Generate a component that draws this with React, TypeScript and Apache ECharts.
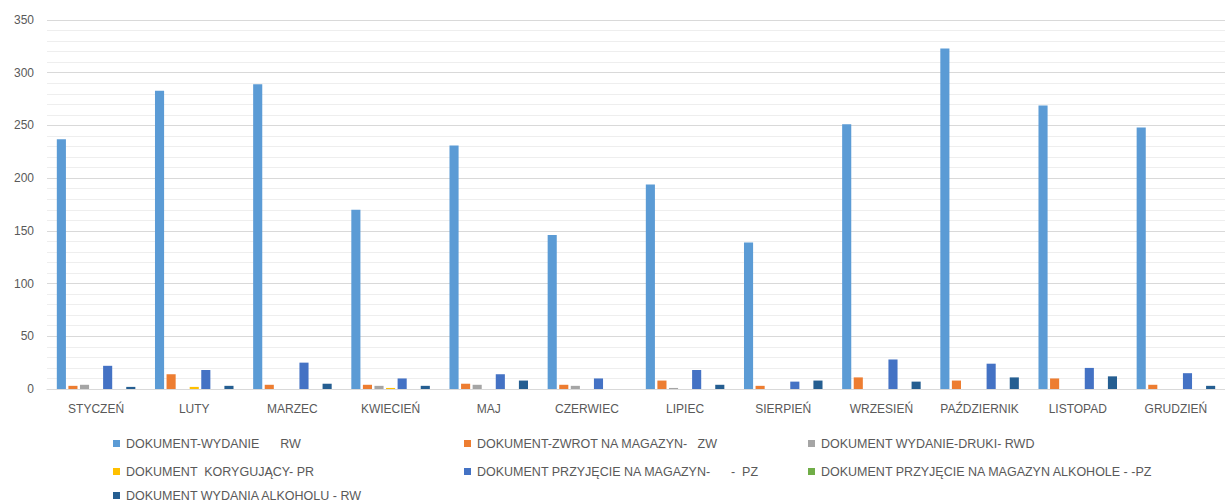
import React, { useEffect, useRef } from "react";
import * as echarts from "echarts";

const months = ["STYCZEŃ", "LUTY", "MARZEC", "KWIECIEŃ", "MAJ", "CZERWIEC", "LIPIEC", "SIERPIEŃ", "WRZESIEŃ", "PAŹDZIERNIK", "LISTOPAD", "GRUDZIEŃ"];

const seriesNames = [
  "DOKUMENT-WYDANIE      RW",
  "DOKUMENT-ZWROT NA MAGAZYN-   ZW",
  "DOKUMENT WYDANIE-DRUKI- RWD",
  "DOKUMENT  KORYGUJĄCY- PR",
  "DOKUMENT PRZYJĘCIE NA MAGAZYN-      -  PZ",
  "DOKUMENT PRZYJĘCIE NA MAGAZYN ALKOHOLE - -PZ",
  "DOKUMENT WYDANIA ALKOHOLU - RW",
];

const rw = [237, 283, 289, 170, 231, 146, 194, 139, 251, 323, 269, 248];
const zw = [3, 14, 4, 4, 5, 4, 8, 3, 11, 8, 10, 4];
const rwd = [4, 0, 0, 3, 4, 3, 1, 0, 0, 0, 0, 0];
const pr = [0, 2, 0, 1, 0, 0, 0, 0, 0, 0, 0, 0];
const pz = [22, 18, 25, 10, 14, 10, 18, 7, 28, 24, 20, 15];
const pzAlk = [0, 0, 0, 0, 0, 0, 0, 0, 0, 0, 0, 0];
const rwAlk = [2, 3, 5, 3, 8, 0, 4, 8, 7, 11, 12, 3];

const yTicks = [0, 50, 100, 150, 200, 250, 300, 350];

const colors = ["#5B9BD5", "#ED7D31", "#A5A5A5", "#FFC000", "#4472C4", "#70AD47", "#255E91"];

// legend placement: [left, centerY] for each series
const legendPos: [number, number][] = [
  [113, 442],
  [464, 442],
  [808, 442],
  [113, 470],
  [464, 470],
  [808, 470],
  [113, 494],
];

export default function App() {
  const ref = useRef<HTMLDivElement>(null);
  useEffect(() => {
    if (!ref.current) return;
    const chart = echarts.init(ref.current, null, { renderer: "svg" });
    const values = [rw, zw, rwd, pr, pz, pzAlk, rwAlk];
    const font = "'Liberation Sans', Arial, sans-serif";
    chart.setOption({
      animation: false,
      color: colors,
      textStyle: { fontFamily: font },
      grid: { left: 47, right: -14, top: 20, bottom: 114, containLabel: false },
      legend: seriesNames.map((name, i) => ({
        left: legendPos[i][0],
        top: legendPos[i][1] - 5,
        padding: 0,
        itemWidth: 7,
        itemHeight: 7,
        itemGap: 4,
        icon: "rect",
        data: [name],
        textStyle: { color: "#595959", fontSize: 12.5, fontFamily: font, padding: [0, 0, 0, 1] },
      })),
      xAxis: {
        type: "category",
        data: months,
        axisTick: { show: false },
        axisLine: { lineStyle: { color: "#d9d9d9" } },
        axisLabel: { color: "#595959", fontSize: 12, margin: 14, interval: 0, fontFamily: font },
      },
      yAxis: {
        type: "value",
        min: yTicks[0],
        max: yTicks[yTicks.length - 1],
        interval: 50,
        axisLabel: { color: "#595959", fontSize: 12, margin: 13, fontFamily: font },
        axisLine: { show: false },
        axisTick: { show: false },
        splitLine: { lineStyle: { color: "#d9d9d9" } },
        minorTick: { show: false, splitNumber: 5 },
        minorSplitLine: { show: true, lineStyle: { color: "#eeeeee" } },
      },
      series: seriesNames.map((name, i) => ({
        name,
        type: "bar",
        data: values[i],
        barGap: "27%",
        barCategoryGap: "20%",
        itemStyle: { color: colors[i] },
      })),
    });
    return () => chart.dispose();
  }, []);
  return (
    <div
      ref={ref}
      style={{ position: "fixed", left: 0, top: 0, width: 1225, height: 503, background: "#fff" }}
    />
  );
}
